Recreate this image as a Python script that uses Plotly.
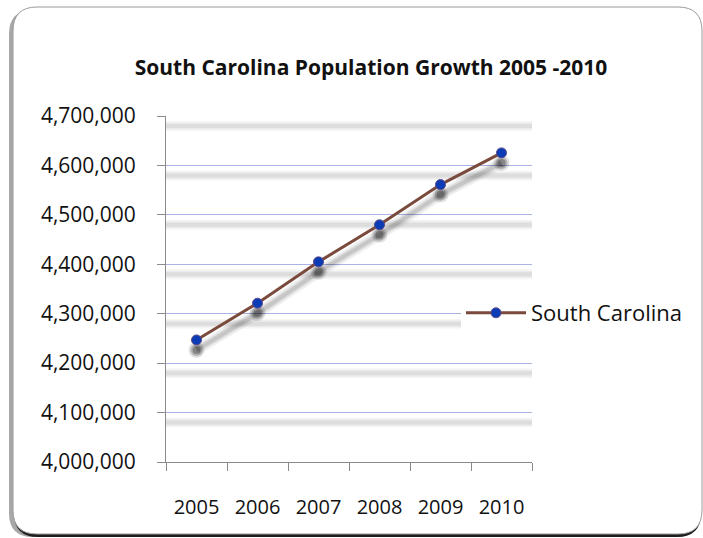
import plotly.graph_objects as go

# South Carolina resident population, 2005-2010
years = ["2005", "2006", "2007", "2008", "2009", "2010"]
population = [4246933, 4321249, 4404914, 4479800, 4561242, 4625364]
series_name = "South Carolina"
title_text = "<b>South Carolina Population Growth 2005 -2010</b>"
y_ticks = [4000000, 4100000, 4200000, 4300000, 4400000, 4500000, 4600000, 4700000]

W, H = 703, 538
L, R, T, B = 166, 532, 116, 462
y_min, y_max = 4000000, 4700000

FONT = "Open Sans"
LINE_COLOR = "#7a4a3c"
MARKER_COLOR = "#0b3bb5"
GRID_COLOR = "#aab2e6"
AXIS_COLOR = "#8a8a8a"

# drop-shadow offset (pixels) converted to data units of the value axis
shadow_px = 10
shadow_d = shadow_px / (B - T) * (y_max - y_min)


def px(x):
    return (x - L) / (R - L)


def py(y):
    return (B - y) / (B - T)


def rounded_rect(x0, y0, x1, y1, r):
    return (
        f"M {px(x0 + r)} {py(y0)} L {px(x1 - r)} {py(y0)} "
        f"Q {px(x1)} {py(y0)} {px(x1)} {py(y0 + r)} "
        f"L {px(x1)} {py(y1 - r)} Q {px(x1)} {py(y1)} {px(x1 - r)} {py(y1)} "
        f"L {px(x0 + r)} {py(y1)} Q {px(x0)} {py(y1)} {px(x0)} {py(y1 - r)} "
        f"L {px(x0)} {py(y0 + r)} Q {px(x0)} {py(y0)} {px(x0 + r)} {py(y0)} Z"
    )


fig = go.Figure()

# soft shadow of the series, drawn on a hidden axis shifted a few pixels down
for width, alpha in [(11, 0.06), (7, 0.08), (4, 0.10)]:
    fig.add_trace(go.Scatter(
        x=years, y=population, yaxis="y", mode="lines",
        line=dict(color=f"rgba(0,0,0,{alpha})", width=width),
        hoverinfo="skip", showlegend=False,
    ))
for size, alpha in [(16, 0.12), (12, 0.2), (8, 0.25)]:
    fig.add_trace(go.Scatter(
        x=years, y=population, yaxis="y", mode="markers",
        marker=dict(color=f"rgba(0,0,0,{alpha})", size=size, line=dict(width=0)),
        hoverinfo="skip", showlegend=False,
    ))

# the series itself
fig.add_trace(go.Scatter(
    x=years, y=population, yaxis="y2", mode="lines+markers", name=series_name,
    line=dict(color=LINE_COLOR, width=3),
    marker=dict(color=MARKER_COLOR, size=10, line=dict(color="#5a4a8a", width=1)),
))

shapes = [
    # chart frame shadows and frame
    dict(type="path", xref="paper", yref="paper", layer="below",
         path=rounded_rect(9, 10, 699, 537, 24), fillcolor="#a8a8a8", line=dict(width=0)),
    dict(type="path", xref="paper", yref="paper", layer="below",
         path=rounded_rect(14, 10, 701, 537, 24), fillcolor="#1e1e1e", line=dict(width=0)),
    dict(type="path", xref="paper", yref="paper", layer="below",
         path=rounded_rect(13, 7, 702, 534, 24), fillcolor="white",
         line=dict(color="#9a9a9a", width=1)),
]

# blurred shadows under the gridlines
for v in y_ticks[1:]:
    for width, alpha in [(10, 0.035), (7, 0.045), (4, 0.06)]:
        shapes.append(dict(
            type="line", xref="paper", yref="y", layer="below",
            x0=0.0, x1=1.0, y0=v, y1=v,
            line=dict(color=f"rgba(0,0,0,{alpha})", width=width),
        ))

fig.update_layout(
    width=W, height=H,
    margin=dict(l=L, r=W - R, t=T, b=H - B),
    paper_bgcolor="white", plot_bgcolor="rgba(0,0,0,0)",
    font=dict(family=FONT, color="#111111"),
    title=dict(text=title_text, x=371 / W, xanchor="center",
               y=1 - 68 / H, yanchor="middle", yref="container",
               font=dict(family=FONT, size=21, color="#111111")),
    xaxis=dict(
        type="category", range=[-0.5, 5.5], tickson="boundaries",
        ticks="outside", ticklen=8, tickcolor=AXIS_COLOR,
        showline=True, linecolor=AXIS_COLOR, linewidth=1,
        showgrid=False, zeroline=False,
        tickfont=dict(family=FONT, size=20, color="#111111"),
        ticklabelstandoff=27,
    ),
    yaxis=dict(
        visible=False, range=[y_min + shadow_d, y_max + shadow_d],
        fixedrange=True,
    ),
    yaxis2=dict(
        overlaying="y", side="left", anchor="x",
        range=[y_min, y_max], tickvals=y_ticks, tickformat=",",
        ticks="outside", ticklen=8, tickcolor=AXIS_COLOR,
        showline=True, linecolor=AXIS_COLOR, linewidth=1,
        showgrid=True, gridcolor=GRID_COLOR, gridwidth=1, zeroline=False,
        tickfont=dict(family=FONT, size=21, color="#111111"),
        ticklabelstandoff=17,
    ),
    legend=dict(
        x=px(461), xanchor="left", y=py(313), yanchor="middle",
        bgcolor="white", borderwidth=0,
        font=dict(family=FONT, size=22, color="#111111"),
        itemwidth=60, tracegroupgap=0,
    ),
    shapes=shapes,
    showlegend=True,
)

fig.write_html("out.html")
